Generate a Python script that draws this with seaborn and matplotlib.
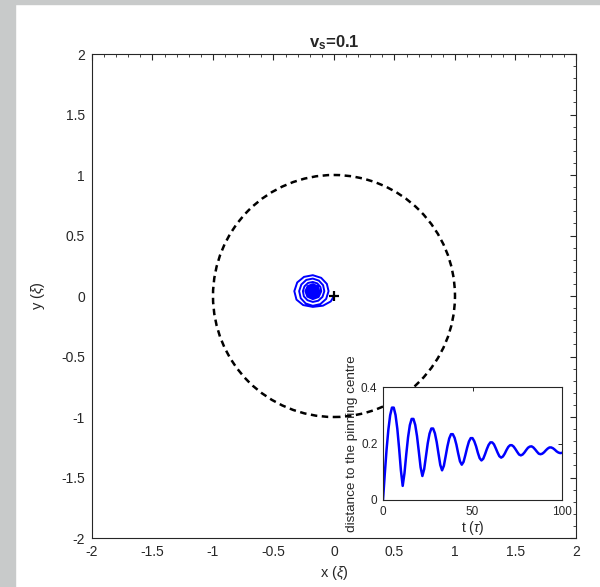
import numpy as np
import pandas as pd
import seaborn as sns
import matplotlib
matplotlib.use("Agg")
import matplotlib.pyplot as plt
from matplotlib.patches import Circle, Rectangle

# trajectory of the spiral tip (x, y in units of xi)
spiral_x = [
    0.000, -0.027, -0.091, -0.175, -0.255, -0.310, -0.328, -0.304, -0.248, -0.175, -0.106, -0.059,
    -0.045, -0.065, -0.113, -0.175, -0.234, -0.275, -0.288, -0.270, -0.229, -0.175, -0.125, -0.090,
    -0.080, -0.095, -0.130, -0.175, -0.219, -0.249, -0.257, -0.244, -0.214, -0.175, -0.138, -0.113,
    -0.105, -0.127, -0.175, -0.220, -0.237, -0.217, -0.175, -0.135,
    -0.121, -0.138, -0.175, -0.210, -0.222, -0.208, -0.175, -0.145,
    -0.135, -0.147, -0.175, -0.200, -0.209, -0.198, -0.175, -0.153,
    -0.146, -0.155, -0.175, -0.193, -0.199, -0.191, -0.175, -0.160,
    -0.155, -0.162, -0.175, -0.187, -0.191, -0.186, -0.175, -0.165,
    -0.162, -0.166, -0.175, -0.183, -0.186, -0.182, -0.175, -0.169,
    -0.168,
]
spiral_y = [
    0.000, -0.045, -0.080, -0.090, -0.075, -0.030, 0.040, 0.112, 0.158, 0.172, 0.150, 0.100,
    0.040, -0.024, -0.067, -0.081, -0.062, -0.018, 0.040, 0.095, 0.133, 0.144, 0.127, 0.089,
    0.040, -0.007, -0.039, -0.049, -0.035, -0.003, 0.040, 0.080, 0.108, 0.116, 0.104, 0.076,
    0.040, -0.008, -0.026, -0.005, 0.040, 0.082, 0.098, 0.080,
    0.040, 0.003, -0.010, 0.005, 0.040, 0.073, 0.084, 0.070,
    0.040, 0.012, 0.003, 0.015, 0.040, 0.063, 0.072, 0.062,
    0.040, 0.020, 0.013, 0.022, 0.040, 0.056, 0.062, 0.055,
    0.040, 0.027, 0.022, 0.028, 0.040, 0.051, 0.055, 0.050,
    0.040, 0.031, 0.028, 0.032, 0.040, 0.047, 0.049, 0.046,
    0.040,
]

# pinning centre and the dashed reference circle
pin_x = [0.0]
pin_y = [0.0]
circle_radius = 1.0

# inset: distance to the pinning centre vs time
time_tau = list(range(0, 101))
distance = [
    0.000, 0.093, 0.179, 0.249, 0.300, 0.327, 0.327, 0.301, 0.252, 0.183, 0.105,
    0.050, 0.095, 0.162, 0.222, 0.265, 0.287, 0.287, 0.266, 0.226, 0.172, 0.116,
    0.085, 0.109, 0.155, 0.201, 0.235, 0.253, 0.253, 0.236, 0.205, 0.164, 0.124,
    0.105, 0.121, 0.155, 0.190, 0.218, 0.233, 0.233, 0.220, 0.196, 0.165, 0.137,
    0.125, 0.135, 0.159, 0.185, 0.207, 0.219, 0.219, 0.208, 0.190, 0.167, 0.148,
    0.140, 0.146, 0.162, 0.180, 0.195, 0.204, 0.204, 0.197, 0.183, 0.168, 0.155,
    0.150, 0.154, 0.164, 0.177, 0.188, 0.194, 0.194, 0.189, 0.180, 0.170, 0.161,
    0.158, 0.161, 0.168, 0.177, 0.185, 0.189, 0.190, 0.186, 0.179, 0.171, 0.164,
    0.162, 0.164, 0.169, 0.176, 0.182, 0.186, 0.186, 0.183, 0.178, 0.172, 0.168,
    0.166, 0.167,
]

main_ticks = [-2, -1.5, -1, -0.5, 0, 0.5, 1, 1.5, 2]
main_tick_labels = ["-2", "-1.5", "-1", "-0.5", "0", "0.5", "1", "1.5", "2"]
inset_xticks = [0, 50, 100]
inset_xtick_labels = ["0", "50", "100"]
inset_yticks = [0, 0.2, 0.4]
inset_ytick_labels = ["0", "0.2", "0.4"]

sns.set_style("white")
plt.rcParams["font.family"] = ["Liberation Sans", "DejaVu Sans"]
plt.rcParams["mathtext.fontset"] = "custom"
plt.rcParams["mathtext.rm"] = "Liberation Sans"
plt.rcParams["mathtext.it"] = "Liberation Sans:italic"
plt.rcParams["mathtext.bf"] = "Liberation Sans:bold"
plt.rcParams["axes.unicode_minus"] = False

axis_col = "#262626"

fig = plt.figure(figsize=(6.0, 5.87), dpi=100)
fig.patch.set_facecolor("white")
# grey window edges of the screenshot
fig.patches.append(Rectangle((0, 0), 15 / 600, 1, transform=fig.transFigure,
                             color="#c8caca", zorder=0))
fig.patches.append(Rectangle((0, 1 - 4 / 587), 1, 4 / 587, transform=fig.transFigure,
                             color="#c8caca", zorder=0))

ax = fig.add_axes([92 / 600, 1 - 538 / 587, 484 / 600, 484 / 587])

traj = pd.DataFrame({"x": spiral_x, "y": spiral_y})
sns.lineplot(data=traj, x="x", y="y", sort=False, estimator=None,
             color="#0000ff", linewidth=1.4, ax=ax)
ax.add_patch(Circle((0, 0), circle_radius, fill=False, edgecolor="black",
                    linewidth=1.8, linestyle=(0, (2.6, 1.8))))
ax.plot(pin_x, pin_y, marker="+", color="black", markersize=7,
        markeredgewidth=1.6, linestyle="none")

ax.set_xlim(-2, 2)
ax.set_ylim(-2, 2)
ax.set_xticks(main_ticks)
ax.set_xticklabels(main_tick_labels)
ax.set_yticks(main_ticks)
ax.set_yticklabels(main_tick_labels)
ax.minorticks_on()
ax.set_xticks(np.arange(-2, 2.01, 0.1), minor=True)
ax.set_yticks(np.arange(-2, 2.01, 0.1), minor=True)
ax.tick_params(which="both", direction="in", top=True, right=True,
               colors=axis_col, labelsize=10, pad=5)
ax.tick_params(which="major", length=4, width=0.8)
ax.tick_params(which="minor", length=2, width=0.6)
for s in ax.spines.values():
    s.set_color(axis_col)
    s.set_linewidth(0.8)
ax.set_xlabel(r"x ($\xi$)", fontsize=10.5, color=axis_col, labelpad=4)
ax.set_ylabel(r"y ($\xi$)", fontsize=10.5, color=axis_col, labelpad=10)
ax.set_title(r"$\mathbf{v_s}$=0.1", fontsize=12, fontweight="bold", pad=5)

# inset
axi = fig.add_axes([383 / 600, 1 - 500 / 587, 179 / 600, 113 / 587])
axi.set_facecolor("white")
ins = pd.DataFrame({"t": time_tau, "d": distance})
sns.lineplot(data=ins, x="t", y="d", color="#0000ff", linewidth=1.8,
             estimator=None, ax=axi)
axi.set_xlim(0, 100)
axi.set_ylim(0, 0.4)
axi.set_xticks(inset_xticks)
axi.set_xticklabels(inset_xtick_labels)
axi.set_yticks(inset_yticks)
axi.set_yticklabels(inset_ytick_labels)
axi.tick_params(direction="in", top=True, right=True, length=3, width=0.7,
                colors=axis_col, labelsize=8.5, pad=4)
for s in axi.spines.values():
    s.set_color(axis_col)
    s.set_linewidth(0.8)
axi.set_xlabel(r"t ($\tau$)", fontsize=10, color=axis_col, labelpad=1)
axi.set_ylabel("distance to the pinning centre", fontsize=9.7, color=axis_col,
               labelpad=2)

fig.savefig("out.png", dpi=100)
